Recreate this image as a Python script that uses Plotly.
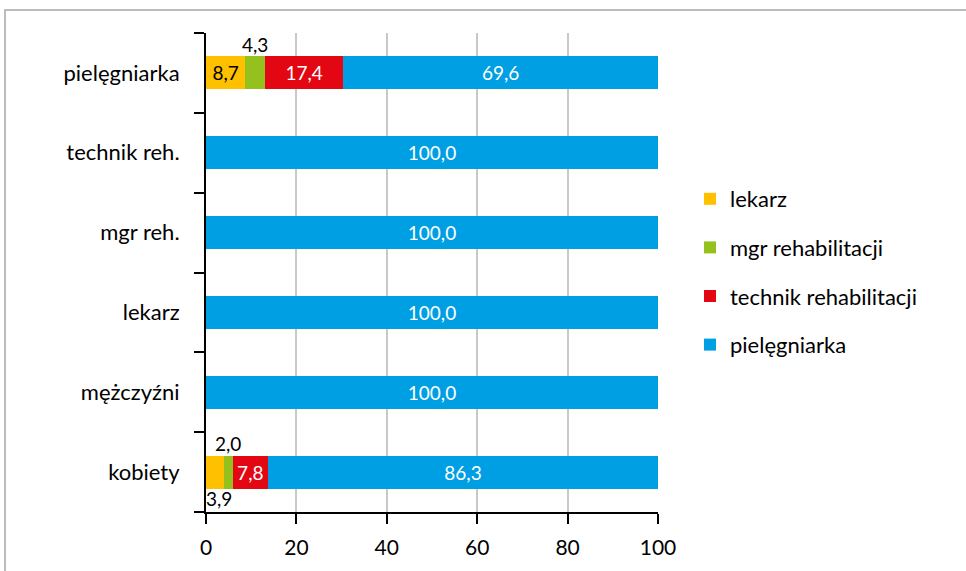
import plotly.graph_objects as go

# Categories (bottom to top) and share of each profession, %
categories = ["kobiety", "mężczyźni", "lekarz", "mgr reh.", "technik reh.", "pielęgniarka"]
series_names = ["lekarz", "mgr rehabilitacji", "technik rehabilitacji", "pielęgniarka"]
lekarz = [3.9, 0, 0, 0, 0, 8.7]
mgr_rehabilitacji = [2.0, 0, 0, 0, 0, 4.3]
technik_rehabilitacji = [7.8, 0, 0, 0, 0, 17.4]
pielegniarka = [86.3, 100.0, 100.0, 100.0, 100.0, 69.6]
x_ticks = [0, 20, 40, 60, 80, 100]

colors = ["#FFC000", "#95C11F", "#E30613", "#009FE3"]
text_colors = ["#000000", "#000000", "#FFFFFF", "#FFFFFF"]
FONT = "Lato, Open Sans, sans-serif"

series = [lekarz, mgr_rehabilitacji, technik_rehabilitacji, pielegniarka]

# label placement for narrow segments: (series index, category index) -> (x shift, y shift) in px
outside_labels = {(1, 5): (0, 28), (1, 0): (0, 29), (0, 0): (4, -26)}

fig = go.Figure()
for si, (name, vals) in enumerate(zip(series_names, series)):
    texts = []
    for ci, v in enumerate(vals):
        if v == 0 or (si, ci) in outside_labels:
            texts.append("")
        else:
            texts.append(f"{v:.1f}".replace(".", ","))
    fig.add_trace(go.Bar(
        y=categories, x=vals, name=name, orientation="h",
        marker=dict(color=colors[si], line=dict(width=0)),
        text=texts, textposition="inside", insidetextanchor="middle",
        textangle=0, constraintext="none",
        textfont=dict(family=FONT, size=19, color=text_colors[si]),
        legendgroup=name, hoverinfo="skip",
    ))

# labels for narrow segments placed above / below the bar
for (si, ci), (dx, dy) in outside_labels.items():
    start = sum(series[k][ci] for k in range(si))
    v = series[si][ci]
    fig.add_annotation(
        x=start + v / 2, y=categories[ci], xref="x", yref="y",
        text=f"{v:.1f}".replace(".", ","), showarrow=False,
        xshift=dx, yshift=dy,
        font=dict(family=FONT, size=19, color="#000000"),
    )

L, R, T, B = 206, 308, 33, 59
W, H = 966, 571
pw, ph = W - L - R, H - T - B

# outer chart frame
fig.add_shape(
    type="rect", xref="paper", yref="paper",
    x0=(5 - L) / pw, x1=(W + 20 - L) / pw,
    y0=-(B + 20) / ph, y1=1 + (T - 10) / ph,
    line=dict(color="#A6A6A6", width=1.5), fillcolor="rgba(0,0,0,0)", layer="below",
)

fig.update_layout(
    width=W, height=H,
    margin=dict(l=L, r=R, t=T, b=B, pad=0),
    barmode="stack", bargap=0.585,
    plot_bgcolor="white", paper_bgcolor="white",
    separators=", ",
    font=dict(family=FONT, size=19, color="#000000"),
    showlegend=True,
    legend=dict(
        x=(690 - L) / pw, y=1 - (178 - T) / ph, xanchor="left", yanchor="top",
        traceorder="grouped", tracegroupgap=17,
        font=dict(family=FONT, size=22, color="#000000"),
        itemwidth=30, bgcolor="rgba(0,0,0,0)",
    ),
    xaxis=dict(
        range=[0, 100], tickvals=x_ticks, ticks="outside", ticklen=10,
        tickcolor="#000000", tickwidth=2,
        showline=True, linecolor="#000000", linewidth=2,
        showgrid=True, gridcolor="#C8C8C8", gridwidth=2,
        zeroline=False, tickfont=dict(size=21), ticklabelstandoff=6,
        fixedrange=True,
    ),
    yaxis=dict(
        type="category", categoryorder="array", categoryarray=categories,
        range=[-0.5, 5.5], ticks="outside", tickson="boundaries", ticklen=10,
        tickcolor="#000000", tickwidth=2,
        showline=True, linecolor="#000000", linewidth=2,
        showgrid=False, tickfont=dict(size=22), ticklabelstandoff=20,
        fixedrange=True,
    ),
)

fig.write_html("out.html")
